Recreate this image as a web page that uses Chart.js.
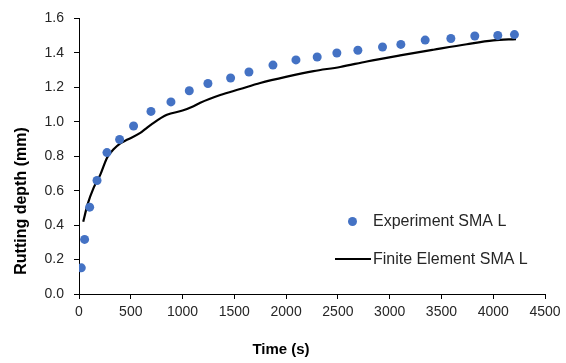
<!DOCTYPE html>
<html>
<head>
<meta charset="utf-8">
<script src="https://cdn.jsdelivr.net/npm/chart.js@4.4.1/dist/chart.umd.min.js"></script>
<style>
html,body{margin:0;padding:0;background:#fff;}
#wrap{width:566px;height:363px;position:relative;}
</style>
</head>
<body>
<div id="wrap"><canvas id="c" width="566" height="363"></canvas></div>
<script>
// Experiment SMA L
const expTime  = [22, 54, 103, 174, 270, 392, 527, 695, 888, 1065, 1245, 1464, 1641, 1873, 2095, 2300, 2490, 2693, 2931, 3108, 3343, 3591, 3822, 4044, 4205];
const expDepth = [0.152, 0.317, 0.504, 0.659, 0.821, 0.897, 0.975, 1.06, 1.115, 1.18, 1.222, 1.254, 1.289, 1.329, 1.359, 1.376, 1.399, 1.415, 1.434, 1.449, 1.474, 1.483, 1.498, 1.501, 1.506];
// Finite Element SMA L
const feTime  = [41, 83, 141, 206, 270, 334, 399, 463, 592, 656, 700, 849, 1000, 1106, 1171, 1364, 1557, 1750, 2008, 2265, 2522, 2780, 3101, 3423, 3745, 4002, 4220];
const feDepth = [0.42, 0.52, 0.616, 0.693, 0.79, 0.84, 0.875, 0.895, 0.935, 0.965, 0.985, 1.04, 1.065, 1.09, 1.11, 1.155, 1.19, 1.225, 1.262, 1.294, 1.318, 1.35, 1.385, 1.418, 1.45, 1.472, 1.48];
const seriesNames = ['Experiment SMA L', 'Finite Element SMA L'];
const xTitle = 'Time (s)';
const yTitle = 'Rutting depth (mm)';

const FONT = "'Liberation Sans', Arial, sans-serif";
const TXT = '#262626';

const titlesAndLegend = {
  id: 'titlesAndLegend',
  afterDraw(chart) {
    const ctx = chart.ctx;
    ctx.save();
    ctx.fillStyle = '#000';
    ctx.font = 'bold 15px ' + FONT;
    ctx.textAlign = 'center';
    ctx.textBaseline = 'middle';
    ctx.fillText(xTitle, 281, 350);
    ctx.translate(22, 201);
    ctx.rotate(-Math.PI / 2);
    ctx.font = 'bold 16px ' + FONT;
    ctx.fillText(yTitle, 0, 0);
    ctx.restore();

    // legend
    ctx.save();
    const ds = chart.data.datasets;
    ctx.font = '16px ' + FONT;
    ctx.textAlign = 'left';
    ctx.textBaseline = 'middle';
    ctx.beginPath();
    ctx.fillStyle = ds[0].backgroundColor;
    ctx.arc(352.5, 221.5, 4.5, 0, Math.PI * 2);
    ctx.fill();
    ctx.fillStyle = TXT;
    ctx.fillText(ds[0].label, 373, 222);
    ctx.strokeStyle = ds[1].borderColor;
    ctx.lineWidth = 2.2;
    ctx.beginPath();
    ctx.moveTo(335, 259);
    ctx.lineTo(371, 259);
    ctx.stroke();
    ctx.fillText(ds[1].label, 373, 260);
    ctx.restore();
  }
};

new Chart(document.getElementById('c'), {
  type: 'scatter',
  data: {
    datasets: [
      {
        label: seriesNames[0],
        data: expTime.map((t, i) => ({x: t, y: expDepth[i]})),
        backgroundColor: '#4472C4',
        borderColor: '#4472C4',
        pointRadius: 4.5,
        pointBorderWidth: 0,
        showLine: false
      },
      {
        label: seriesNames[1],
        data: feTime.map((t, i) => ({x: t, y: feDepth[i]})),
        borderColor: '#000000',
        backgroundColor: '#000000',
        borderWidth: 2.2,
        pointRadius: 0,
        showLine: true,
        cubicInterpolationMode: 'monotone'
      }
    ]
  },
  options: {
    responsive: false,
    animation: false,
    devicePixelRatio: 1,
    layout: {padding: {top: 15, right: 21, bottom: 0, left: 0}},
    plugins: {legend: {display: false}, tooltip: {enabled: false}, title: {display: false}},
    scales: {
      x: {
        type: 'linear', min: 0, max: 4500,
        afterFit(s) { s.height = 69; },
        border: {color: '#000', width: 1},
        grid: {display: true, drawOnChartArea: false, drawTicks: true, tickLength: 5, color: '#000'},
        ticks: {stepSize: 500, color: TXT, font: {family: FONT, size: 14}, padding: 5, maxRotation: 0,
          callback: v => String(v)}
      },
      y: {
        min: 0, max: 1.6,
        afterFit(s) { s.width = 79; },
        border: {color: '#000', width: 1},
        grid: {display: true, drawOnChartArea: false, drawTicks: true, tickLength: 5, color: '#000'},
        ticks: {stepSize: 0.2, color: TXT, font: {family: FONT, size: 14}, padding: 10,
          callback: v => Number(v).toFixed(1)}
      }
    }
  },
  plugins: [titlesAndLegend]
});
</script>
</body>
</html>
